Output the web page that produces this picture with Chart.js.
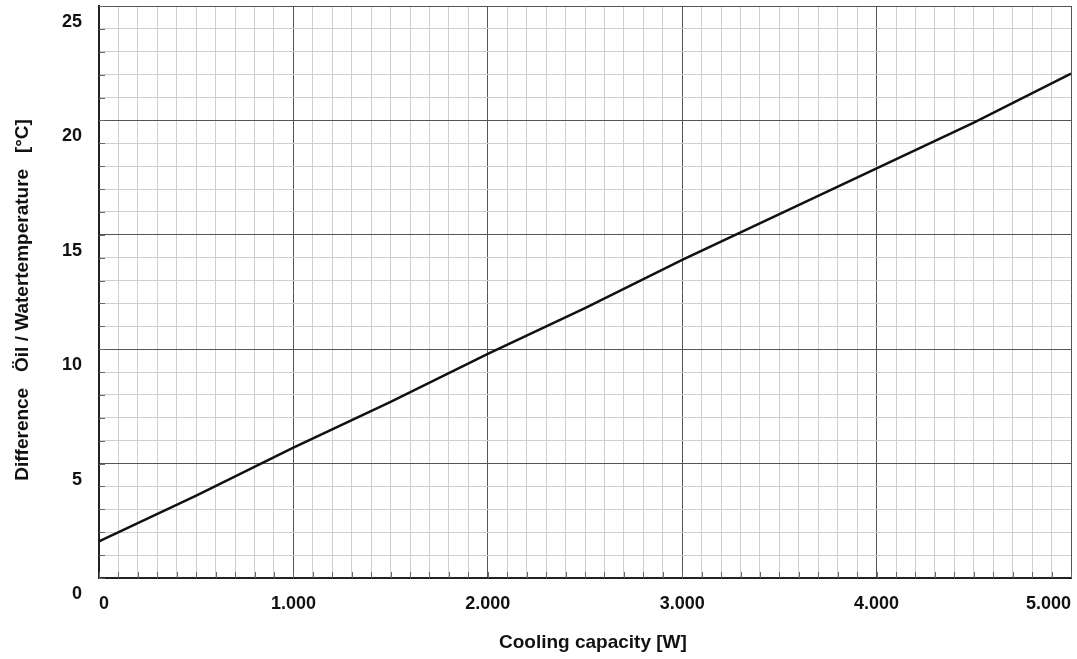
<!DOCTYPE html>
<html>
<head>
<meta charset="utf-8">
<script src="https://cdn.jsdelivr.net/npm/chart.js@4/dist/chart.umd.min.js"></script>
<style>
    html, body { margin: 0; padding: 0; background: #fff; }
    #wrap { width: 1077px; height: 659px; position: relative; }
</style>
</head>
<body>
<div id="wrap"><canvas id="coolingChart"></canvas></div>
<script>
// Cooling capacity [W] vs. oil / water temperature difference [°C]
const capacity = [0, 500, 1000, 1500, 2000, 2500, 3000, 3500, 4000, 4500, 5000];
const tempDiff = [1.6, 3.6, 5.7, 7.7, 9.8, 11.8, 13.9, 15.9, 17.9, 19.9, 22.05];

const xMajorTicks = [0, 1000, 2000, 3000, 4000, 5000];
const yMajorTicks = [0, 5, 10, 15, 20, 25];

const FONT = "'Liberation Sans', Arial, sans-serif";

function thousands(v) {
    return String(v).replace(/\B(?=(\d{3})+(?!\d))/g, '.');
}

// short dark tick marks on the inside of the left and bottom axis
const innerTicks = {
    id: 'innerTicks',
    beforeDatasetsDraw(chart) {
        const { ctx, chartArea: a, scales: { x, y } } = chart;
        ctx.save();
        ctx.strokeStyle = '#666';
        ctx.lineWidth = 1;
        ctx.beginPath();
        x.ticks.forEach(t => {
            const px = Math.round(x.getPixelForValue(t.value)) + 0.5;
            ctx.moveTo(px, a.bottom);
            ctx.lineTo(px, a.bottom - 6);
        });
        y.ticks.forEach(t => {
            const py = Math.round(y.getPixelForValue(t.value)) + 0.5;
            ctx.moveTo(a.left, py);
            ctx.lineTo(a.left + 6, py);
        });
        ctx.stroke();
        ctx.restore();
    }
};

const ctx = document.getElementById('coolingChart').getContext('2d');
new Chart(ctx, {
    type: 'line',
    data: {
        datasets: [{
            data: capacity.map((c, i) => ({ x: c, y: tempDiff[i] })),
            borderColor: '#111',
            borderWidth: 2.5,
            pointRadius: 0,
            tension: 0,
            fill: false
        }]
    },
    options: {
        responsive: true,
        maintainAspectRatio: false,
        animation: false,
        layout: { padding: { top: 6, right: 6, left: 0, bottom: 0 } },
        plugins: {
            legend: { display: false },
            tooltip: { enabled: false }
        },
        scales: {
            x: {
                type: 'linear',
                min: 0,
                max: 5000,
                afterFit: s => { s.height = 81; s.paddingLeft = 0; s.paddingRight = 0; },
                ticks: {
                    stepSize: 100,
                    maxTicksLimit: 100,
                    autoSkip: false,
                    maxRotation: 0,
                    align: 'inner',
                    padding: 15,
                    color: '#111',
                    font: { family: FONT, size: 18, weight: 'bold' },
                    callback: v => xMajorTicks.includes(v) ? thousands(v) : ''
                },
                grid: {
                    drawTicks: false,
                    color: c => xMajorTicks.includes(c.tick && c.tick.value) ? '#555' : '#cfcfcf',
                    lineWidth: 1
                },
                border: { color: '#222', width: 2 },
                title: {
                    display: true,
                    text: '   Cooling capacity [W]',
                    color: '#111',
                    font: { family: FONT, size: 19, weight: 'bold' },
                    padding: { top: 0, bottom: 5 }
                }
            },
            y: {
                min: 0,
                max: 25,
                afterFit: s => { s.width = 99; s.paddingTop = 0; s.paddingBottom = 0; },
                ticks: {
                    stepSize: 1,
                    maxTicksLimit: 100,
                    autoSkip: false,
                    padding: 17,
                    labelOffset: 16,
                    color: '#111',
                    font: { family: FONT, size: 18, weight: 'bold' },
                    callback: v => yMajorTicks.includes(v) ? String(v) : ''
                },
                grid: {
                    drawTicks: false,
                    color: c => yMajorTicks.includes(c.tick && c.tick.value) ? '#555' : '#cfcfcf',
                    lineWidth: 1
                },
                border: { color: '#222', width: 2 },
                title: {
                    display: true,
                    text: 'Difference   Öil / Watertemperature   [°C]   ',
                    color: '#111',
                    font: { family: FONT, size: 19, weight: 'bold' },
                    padding: { top: 11, bottom: 0 }
                }
            }
        }
    },
    plugins: [innerTicks]
});
</script>
</body>
</html>
